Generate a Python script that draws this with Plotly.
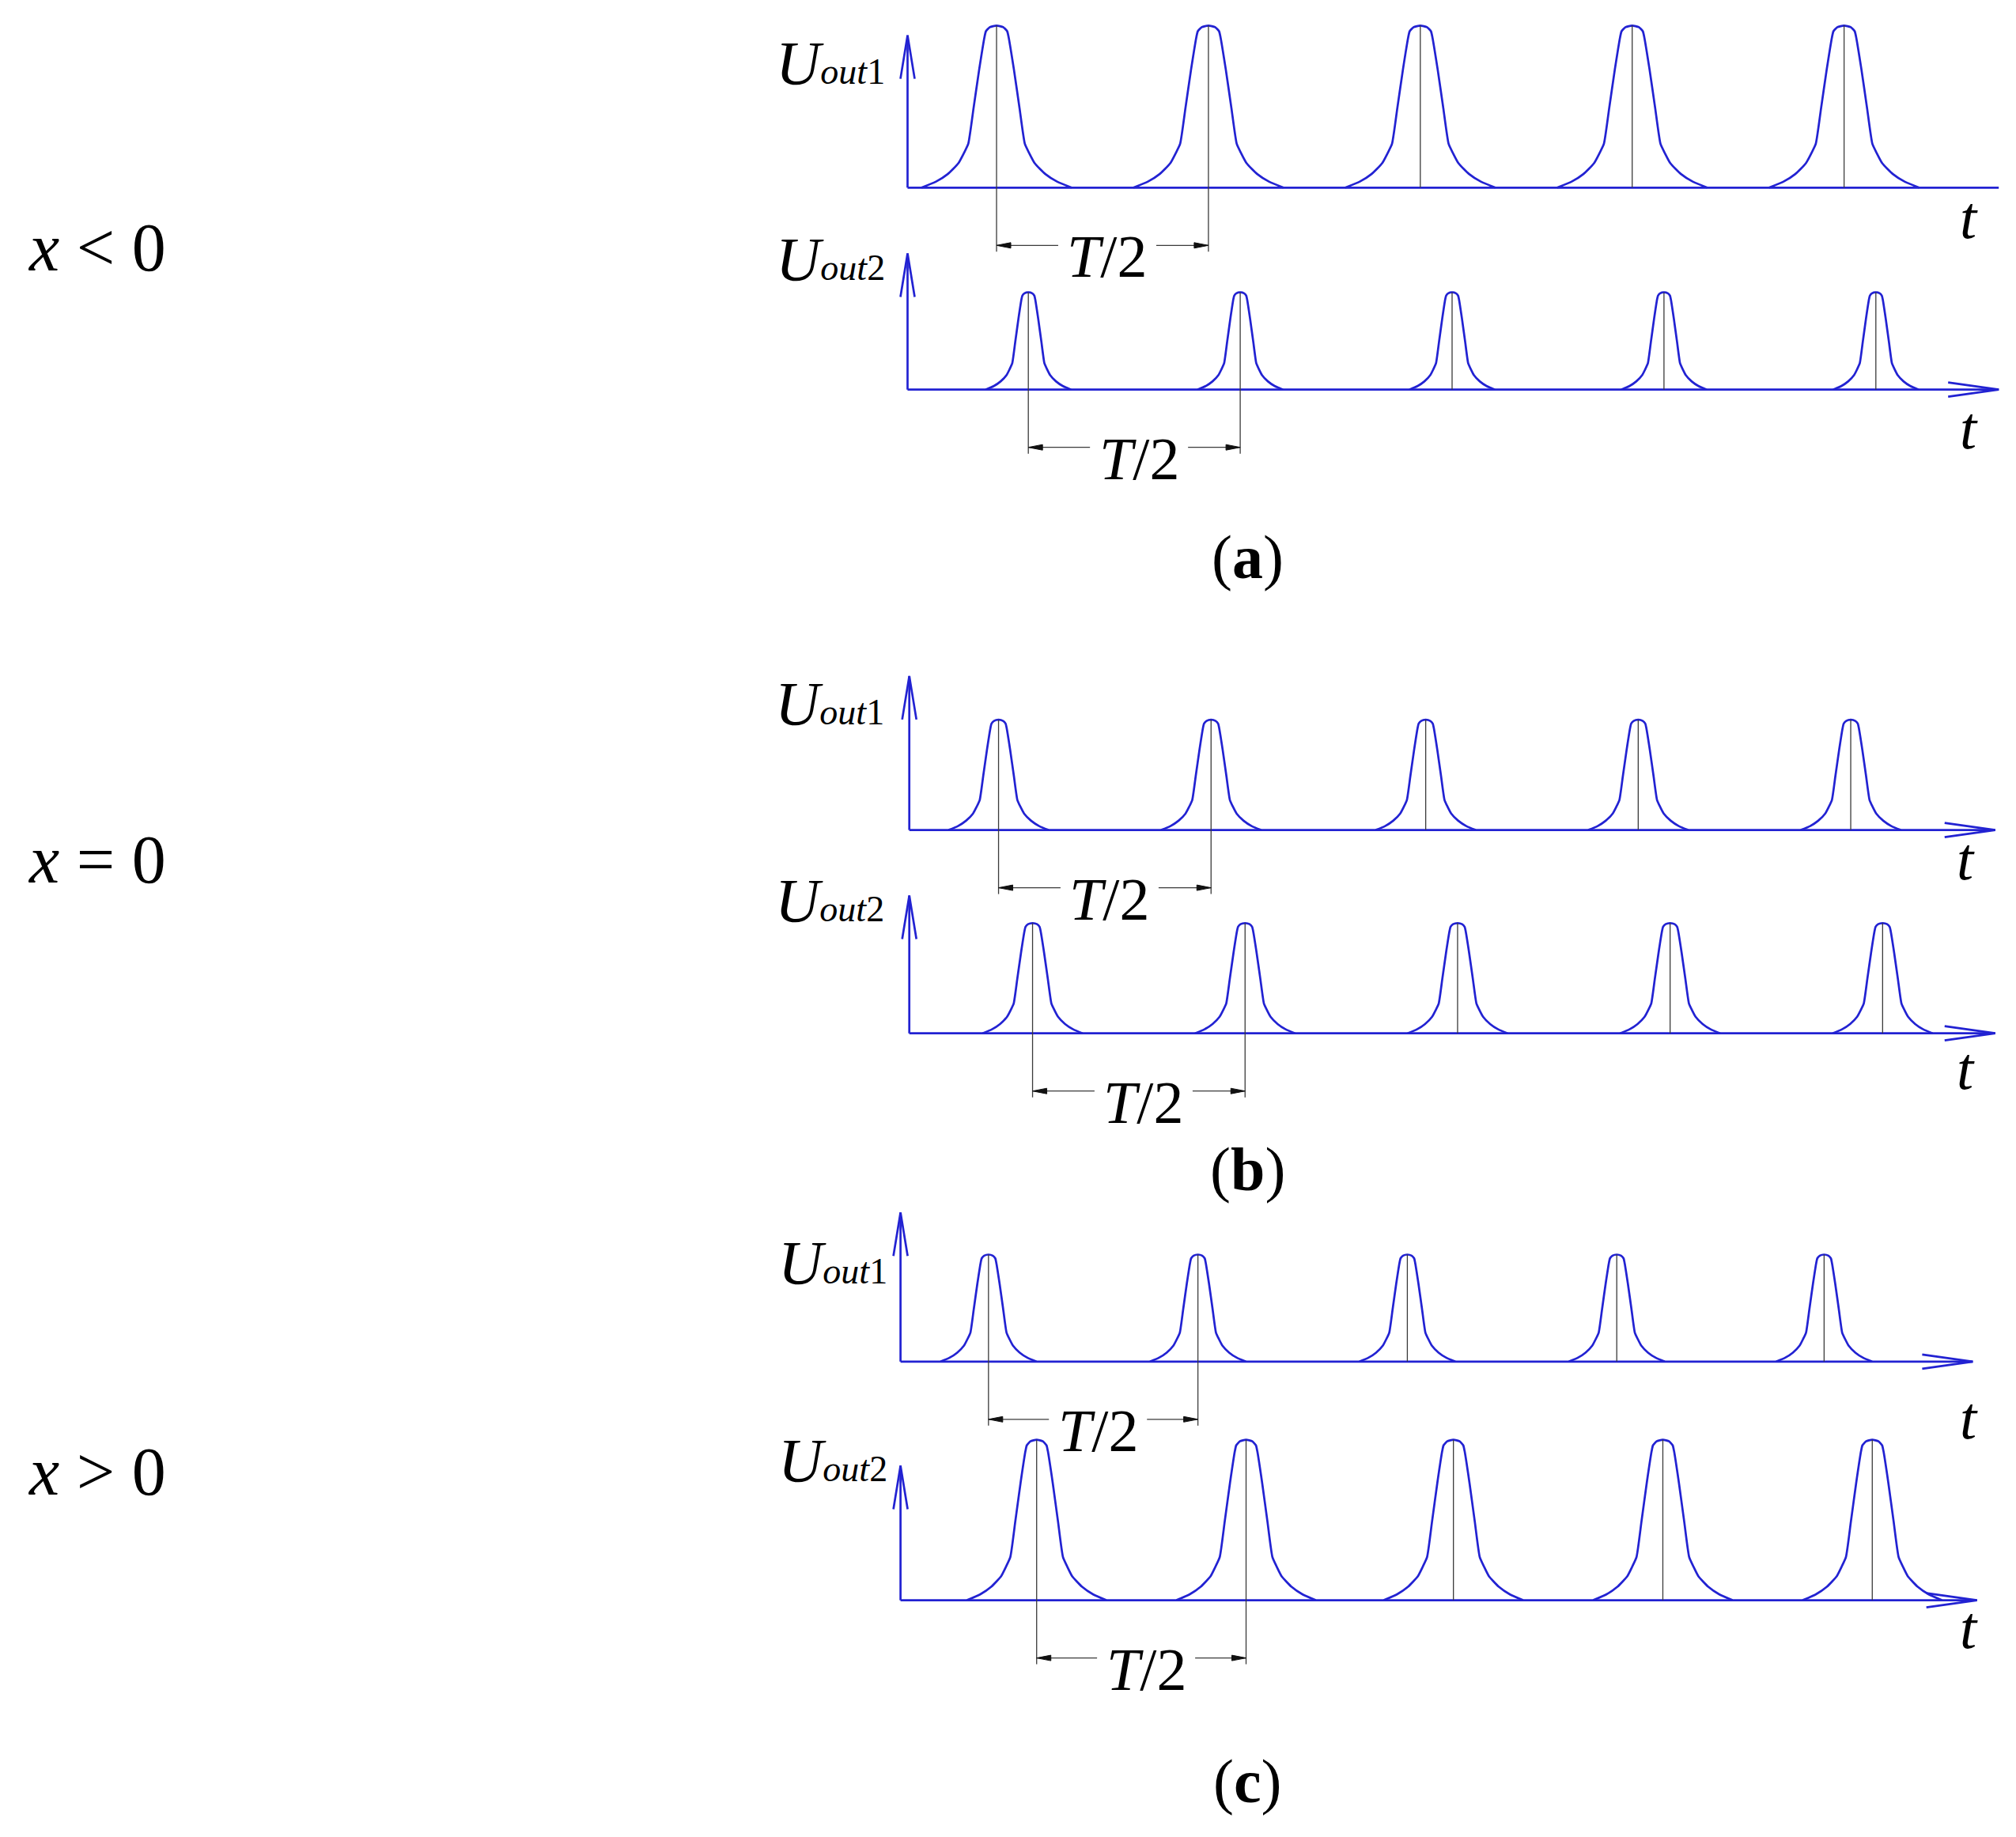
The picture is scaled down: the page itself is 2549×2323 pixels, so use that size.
import plotly.graph_objects as go

W, H = 2549, 2323

# time is in units of T/2 from the vertical axis, amplitude relative to the tallest pulse
peaks_a1 = [0.42, 1.42, 2.42, 3.42, 4.42]
peaks_a2 = [0.57, 1.57, 2.57, 3.57, 4.57]
peaks_b1 = [0.42, 1.42, 2.43, 3.43, 4.43]
peaks_b2 = [0.58, 1.58, 2.58, 3.58, 4.58]
peaks_c1 = [0.42, 1.42, 2.42, 3.42, 4.41]
peaks_c2 = [0.65, 1.65, 2.64, 3.64, 4.64]
peaks = [peaks_a1, peaks_a2, peaks_b1, peaks_b2, peaks_c1, peaks_c2]

amplitudes = [1.00, 0.60, 0.68, 0.68, 0.66, 0.99]
pulse_widths = [0.167, 0.095, 0.111, 0.111, 0.108, 0.157]
axis_tops = [0.94, 0.84, 0.95, 0.85, 0.92, 0.83]
axis_ends = [5.15, 5.15, 5.11, 5.11, 5.12, 5.14]
end_arrow = [False, True, True, True, True, True]
signal_names = ["1", "2", "1", "2", "1", "2"]

# one pulse: distance from peak (in pulse widths), relative level
pulse_offset = [0.0, 0.19, 0.30, 0.34, 0.49, 0.65, 0.80, 0.93, 1.08, 1.38, 1.72, 2.12]
pulse_level = [1.0, 0.99, 0.965, 0.93, 0.73, 0.49, 0.27, 0.21, 0.15, 0.084, 0.036, 0.0]

case_labels = ["<i>x</i> &lt; 0", "<i>x</i> = 0", "<i>x</i> &gt; 0"]
panel_labels = ["(<b>a</b>)", "(<b>b</b>)", "(<b>c</b>)"]

# placement of each little plot on the page (pixels); the page body adds an 8px margin
PAGE = 8
origin_x = [1147.5, 1147.5, 1149.7, 1149.7, 1138.6, 1138.6]
baseline_y = [237.3, 492.7, 1049.6, 1306.7, 1721.8, 2023.6]
px_per_t = [267.9, 267.9, 268.7, 268.7, 264.8, 264.8]
PX_PER_U = 205.0
label_pos = [(-0.10, 0.62), (-0.10, 0.655), (-0.11, 0.63), (-0.11, 0.67), (-0.055, 0.46), (-0.055, 0.715)]
t_pos = [(5.01, -0.21), (5.01, -0.26), (4.97, -0.20), (4.97, -0.24), (5.10, -0.37), (5.10, -0.19)]
case_y = [305, 1079, 1853]
panel_y = [696, 1470, 2244]
LIFT = 5

BLUE = "#2222d2"
GREY = "#3a3a3a"
FONT = "Liberation Serif"

# mirror the half pulse into a full one
full_d = [-d for d in reversed(pulse_offset[1:])] + pulse_offset
full_v = list(reversed(pulse_level[1:])) + pulse_level

fig = go.Figure()
annotations = []

for i in range(6):
    n = "" if i == 0 else str(i + 1)
    xa, ya = "x" + n, "y" + n
    ux, uy = px_per_t[i], PX_PER_U
    A, w, p = amplitudes[i], pulse_widths[i], peaks[i]
    top, end = axis_tops[i], axis_ends[i]
    ox, by = origin_x[i] - PAGE, baseline_y[i] - PAGE

    # axes with arrow heads
    xs = [0, 0, None, 0, end, None, -9 / ux, 0, 9 / ux]
    ys = [0, top, None, 0, 0, None, top - 55 / uy, top, top - 55 / uy]
    if end_arrow[i]:
        xs += [None, end - 64 / ux, end, end - 64 / ux]
        ys += [None, 9 / uy, 0, -9 / uy]
    fig.add_trace(go.Scatter(x=xs, y=ys, xaxis=xa, yaxis=ya, mode="lines",
                             line=dict(color=BLUE, width=2.7), hoverinfo="skip"))

    # pulses
    xs, ys = [], []
    for pk in p:
        xs += [pk + d * w for d in full_d] + [None]
        ys += [A * v for v in full_v] + [None]
    fig.add_trace(go.Scatter(x=xs, y=ys, xaxis=xa, yaxis=ya, mode="lines",
                             line=dict(color=BLUE, width=2.7, shape="spline", smoothing=0.5),
                             hoverinfo="skip"))

    # centre lines and the T/2 dimension
    dim = -73 / uy
    xs, ys = [], []
    for j, pk in enumerate(p):
        bottom = dim - 8 / uy if j < 2 else 0
        xs += [pk, pk, None]
        ys += [A, bottom, None]
    mid = (p[0] + p[1]) / 2 + 6 / ux
    gap = 62 / ux
    xs += [p[0], mid - gap, None, mid + gap, p[1]]
    ys += [dim, dim, None, dim, dim]
    fig.add_trace(go.Scatter(x=xs, y=ys, xaxis=xa, yaxis=ya, mode="lines",
                             line=dict(color=GREY, width=1.3), hoverinfo="skip"))
    for tip, sgn in [(p[0], 1), (p[1], -1)]:
        fig.add_trace(go.Scatter(
            x=[tip, tip + sgn * 18 / ux, tip + sgn * 18 / ux, tip],
            y=[dim, dim + 3.5 / uy, dim - 3.5 / uy, dim],
            xaxis=xa, yaxis=ya, mode="lines", fill="toself", fillcolor="#111",
            line=dict(color="#111", width=1), hoverinfo="skip"))

    annotations.append(dict(xref=xa, yref=ya, x=mid, y=dim, yshift=-14,
                            text="<i>T</i>/2", showarrow=False,
                            font=dict(size=76, family=FONT, color="black")))
    annotations.append(dict(xref=xa, yref=ya, x=t_pos[i][0], y=t_pos[i][1], yshift=LIFT,
                            text="<i>t</i>", showarrow=False,
                            font=dict(size=76, family=FONT, color="black")))
    annotations.append(dict(xref=xa, yref=ya, x=label_pos[i][0], y=label_pos[i][1],
                            xanchor="right", yanchor="middle", yshift=26 + LIFT,
                            text="<i>U</i><span style='font-size:46px'><i>out</i>"
                                 + signal_names[i] + "</span>",
                            showarrow=False,
                            font=dict(size=78, family=FONT, color="black")))

    fig.update_layout(**{
        "xaxis" + n: dict(domain=[0, 1], range=[-ox / ux, (W - ox) / ux],
                          visible=False, anchor=ya, fixedrange=True),
        "yaxis" + n: dict(domain=[0, 1], range=[-(H - by) / uy, by / uy],
                          visible=False, anchor=xa, fixedrange=True),
    })

for k in range(3):
    annotations.append(dict(xref="paper", yref="paper", x=25 / W, y=1 - case_y[k] / H,
                            xanchor="left", yanchor="middle", text=case_labels[k],
                            showarrow=False, font=dict(size=86, family=FONT, color="black")))
    annotations.append(dict(xref="paper", yref="paper", x=1569 / W, y=1 - panel_y[k] / H,
                            xanchor="center", yanchor="middle", text=panel_labels[k],
                            showarrow=False, font=dict(size=78, family=FONT, color="black")))

fig.update_layout(width=W, height=H, margin=dict(l=0, r=0, t=0, b=0),
                  plot_bgcolor="rgba(0,0,0,0)", paper_bgcolor="white", showlegend=False,
                  annotations=annotations)

fig.write_html("out.html")
